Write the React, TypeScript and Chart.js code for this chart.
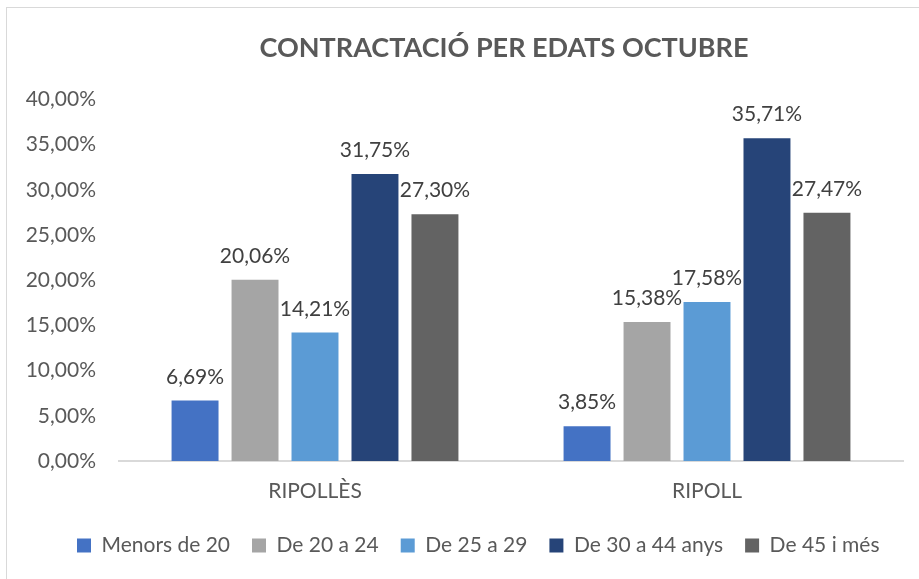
import React, { useEffect, useRef } from "react";
import { Chart, registerables } from "chart.js";

Chart.register(...registerables);

const chartTitle = "CONTRACTACIÓ PER EDATS OCTUBRE";
const categories = ["RIPOLLÈS", "RIPOLL"];
const seriesNames = ["Menors de 20", "De 20 a 24", "De 25 a 29", "De 30 a 44 anys", "De 45 i més"];
const menorsDe20 = [6.69, 3.85];
const de20a24 = [20.06, 15.38];
const de25a29 = [14.21, 17.58];
const de30a44 = [31.75, 35.71];
const de45iMes = [27.3, 27.47];
const seriesColors = ["#4472C4", "#A5A5A5", "#5B9BD5", "#264478", "#636363"];
const yMin = 0;
const yMax = 40;
const yStep = 5;

const FONT = "Lato, 'Open Sans', sans-serif";

const fmt = (v: number) => v.toFixed(2).replace(".", ",") + "%";

const dataLabelPlugin = {
  id: "dataLabels",
  afterDatasetsDraw(chart: any) {
    const ctx = chart.ctx;
    ctx.save();
    ctx.font = `21px ${FONT}`;
    ctx.fillStyle = "#404040";
    ctx.textAlign = "center";
    ctx.textBaseline = "alphabetic";
    chart.data.datasets.forEach((ds: any, i: number) => {
      const meta = chart.getDatasetMeta(i);
      meta.data.forEach((bar: any, j: number) => {
        ctx.fillText(fmt(ds.data[j]), bar.x, bar.y - 17);
      });
    });
    ctx.restore();
  },
};

const legendShiftPlugin = {
  id: "legendShift",
  afterLayout(chart: any) {
    if (chart.legend) {
      chart.legend.left += 35;
    }
  },
};

export default function App() {
  const canvasRef = useRef<HTMLCanvasElement | null>(null);

  useEffect(() => {
    if (!canvasRef.current) return;
    const seriesData = [menorsDe20, de20a24, de25a29, de30a44, de45iMes];
    const chart = new Chart(canvasRef.current, {
      type: "bar",
      data: {
        labels: categories,
        datasets: seriesNames.map((name, i) => ({
          label: name,
          data: seriesData[i],
          backgroundColor: seriesColors[i],
          borderWidth: 0,
          categoryPercentage: 0.765,
          barPercentage: 0.783,
        })),
      },
      options: {
        responsive: true,
        maintainAspectRatio: false,
        animation: false,
        layout: { padding: { left: 20, right: 0, top: 0, bottom: 13 } },
        plugins: {
          tooltip: { enabled: false },
          title: {
            display: true,
            text: chartTitle,
            color: "#595959",
            font: { family: FONT, size: 27, weight: "bold" },
            padding: { top: 32, bottom: 35 },
          },
          legend: {
            display: true,
            position: "bottom",
            align: "start",
            labels: {
              boxWidth: 14,
              boxHeight: 14,
              padding: 22,
              color: "#595959",
              font: { family: FONT, size: 21 },
            },
          },
        },
        scales: {
          x: {
            grid: { display: false, drawTicks: false },
            border: { display: true, color: "#D9D9D9", width: 2 },
            ticks: { color: "#595959", font: { family: FONT, size: 21 }, padding: 18 },
            afterFit: (s: any) => {
              s.height = 52;
            },
          },
          y: {
            min: yMin,
            max: yMax,
            grid: { display: false, drawTicks: false },
            border: { display: false },
            ticks: {
              stepSize: yStep,
              color: "#595959",
              font: { family: FONT, size: 21 },
              padding: 23,
              callback: (v: any) => fmt(Number(v)),
            },
            afterFit: (s: any) => {
              s.width = 99;
            },
          },
          yRight: {
            position: "right",
            display: true,
            grid: { display: false, drawTicks: false },
            border: { display: false },
            ticks: { display: false },
            afterFit: (s: any) => {
              s.width = 85;
            },
          },
        },
      },
      plugins: [dataLabelPlugin, legendShiftPlugin],
    });
    return () => chart.destroy();
  }, []);

  return (
    <div
      style={{
        position: "fixed",
        left: 0,
        top: 0,
        width: 919,
        height: 579,
        overflow: "hidden",
        background: "#ffffff",
      }}
    >
      <div
        style={{
          position: "absolute",
          left: 6,
          top: 7,
          width: 1100,
          height: 1000,
          border: "1px solid #D9D9D9",
        }}
      />
      <div style={{ position: "absolute", left: 0, top: 0, width: 988, height: 579 }}>
        <canvas ref={canvasRef} />
      </div>
    </div>
  );
}
